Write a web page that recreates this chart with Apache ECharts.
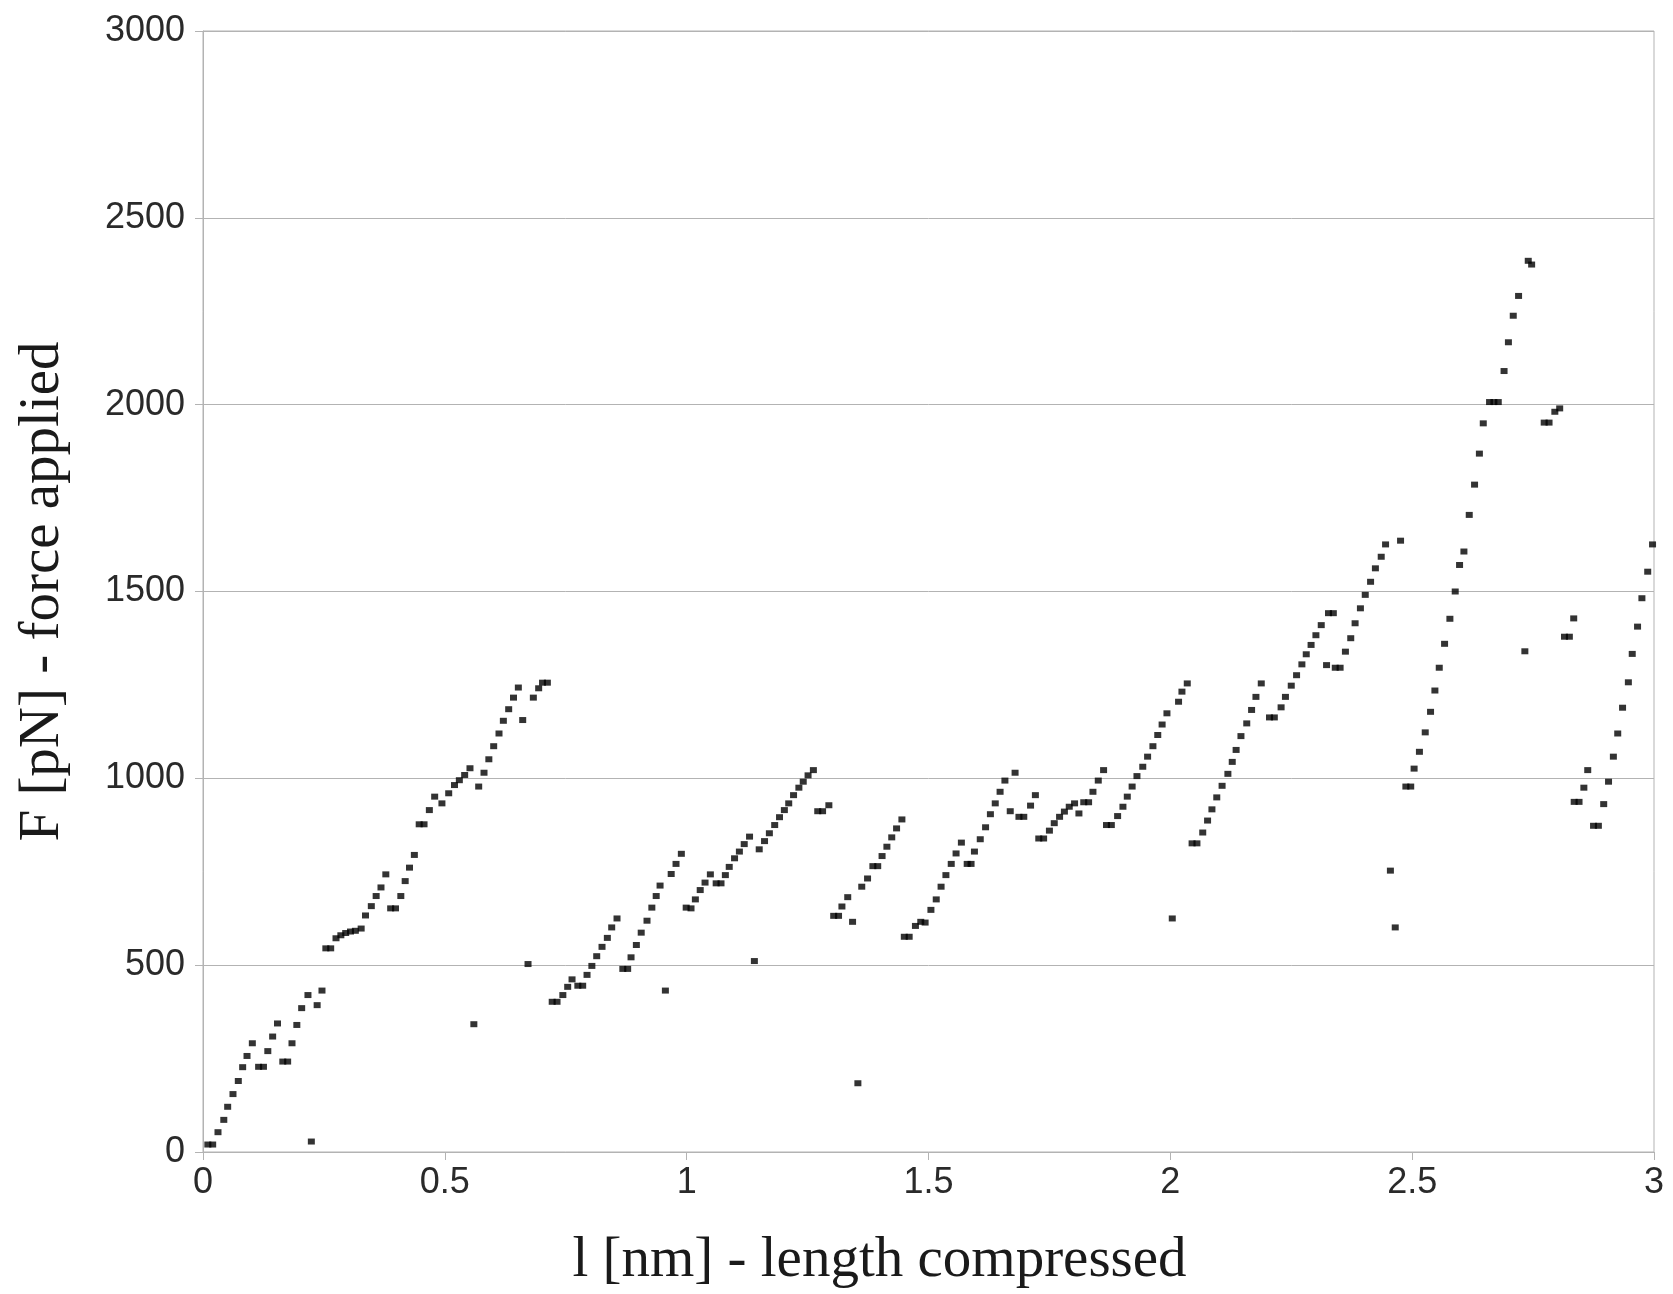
<!DOCTYPE html>
<html>
<head>
<meta charset="utf-8">
<script src="https://cdn.jsdelivr.net/npm/echarts@6/dist/echarts.min.js"></script>
<style>
html,body{margin:0;padding:0;background:#fff;}
#chart{width:1673px;height:1294px;}
</style>
</head>
<body>
<div id="chart"></div>
<script>
// l [nm] - length compressed
const lengthNm = [
0.010,0.020,0.031,0.043,0.051,0.062,0.073,0.082,0.091,0.102,0.115,0.125,0.134,0.144,0.154,0.165,0.175,0.184,0.194,0.204,
0.217,0.224,0.236,0.246,0.254,0.264,0.275,0.285,0.295,0.305,0.315,0.327,0.336,0.348,0.358,0.368,0.378,0.388,0.398,0.409,
0.418,0.427,0.437,0.447,0.457,0.468,0.479,0.494,0.508,0.520,0.530,0.541,0.552,0.560,0.570,0.581,0.591,0.601,0.612,0.621,
0.632,0.642,0.652,0.661,0.672,0.683,0.694,0.702,0.712,0.722,0.732,0.744,0.754,0.763,0.775,0.785,0.794,0.804,0.814,0.825,
0.836,0.845,0.856,0.868,0.878,0.885,0.896,0.906,0.918,0.928,0.937,0.945,0.956,0.968,0.978,0.989,0.999,1.009,1.018,1.028,
1.038,1.049,1.061,1.071,1.080,1.088,1.099,1.109,1.119,1.130,1.140,1.150,1.161,1.171,1.182,1.192,1.202,1.211,1.221,1.232,
1.241,1.251,1.262,1.271,1.281,1.294,1.304,1.314,1.321,1.333,1.343,1.354,1.362,1.374,1.385,1.395,1.404,1.414,1.424,1.434,
1.445,1.450,1.460,1.473,1.484,1.493,1.505,1.516,1.526,1.536,1.547,1.557,1.568,1.580,1.588,1.595,1.607,1.618,1.628,1.638,
1.648,1.658,1.669,1.679,1.687,1.697,1.711,1.721,1.728,1.738,1.750,1.760,1.771,1.781,1.791,1.802,1.811,1.821,1.831,1.840,
1.851,1.862,1.868,1.878,1.891,1.902,1.911,1.921,1.931,1.943,1.953,1.964,1.974,1.983,1.993,2.004,2.017,2.024,2.035,2.045,
2.055,2.067,2.077,2.086,2.096,2.107,2.119,2.128,2.136,2.146,2.158,2.168,2.177,2.188,2.205,2.215,2.229,2.238,2.250,2.261,
2.272,2.281,2.291,2.301,2.312,2.323,2.327,2.337,2.341,2.351,2.362,2.373,2.382,2.393,2.403,2.414,2.424,2.436,2.445,2.455,
2.465,2.476,2.487,2.497,2.504,2.515,2.527,2.538,2.547,2.556,2.567,2.578,2.589,2.598,2.607,2.618,2.629,2.639,2.647,2.660,
2.669,2.678,2.690,2.699,2.709,2.720,2.733,2.740,2.747,2.773,2.783,2.795,2.805,2.815,2.825,2.834,2.835,2.845,2.855,2.863,
2.875,2.885,2.896,2.906,2.916,2.925,2.935,2.947,2.955,2.966,2.975,2.987,2.997
];
// F [pN] - force applied
const forcePn = [
20,20,53,86,121,155,190,227,257,291,228,228,270,309,344,242,242,291,340,385,
420,28,393,432,545,545,572,580,586,590,592,598,633,658,685,708,743,652,652,685,
725,761,795,877,877,915,951,933,960,982,995,1009,1027,342,978,1015,1051,1086,1120,1154,
1185,1216,1243,1156,503,1216,1241,1256,1256,402,402,420,442,462,445,445,474,498,524,549,
573,601,625,490,490,521,554,587,619,654,685,713,432,744,771,798,654,652,676,701,
721,743,719,719,741,763,786,804,824,844,511,810,832,853,875,896,915,933,955,975,
991,1008,1022,912,912,928,632,632,657,682,616,184,710,732,765,765,792,817,842,866,
890,576,576,605,616,614,648,676,710,741,771,799,828,771,771,804,837,869,904,933,
964,994,912,1015,897,897,927,955,839,839,860,880,897,911,924,933,906,936,936,964,
994,1022,875,875,899,924,951,978,1006,1031,1058,1086,1116,1144,1174,625,1205,1232,1254,826,
826,855,887,917,949,980,1012,1044,1076,1113,1147,1183,1218,1254,1163,1163,1190,1218,1248,1276,
1305,1332,1357,1383,1410,1303,1442,1442,1296,1296,1339,1375,1415,1455,1491,1526,1562,1593,1626,753,
601,1636,978,978,1026,1071,1123,1178,1235,1296,1360,1427,1500,1571,1607,1705,1786,1869,1950,2007,
2007,2007,2090,2167,2238,2291,1340,2385,2375,1952,1952,1981,1990,1379,1379,1428,937,937,975,1022,
873,873,931,991,1058,1120,1189,1257,1333,1406,1482,1553,1626
];
const xTitle = 'l [nm] - length compressed';
const yTitle = 'F [pN] - force applied';

const points = lengthNm.map((l, i) => [l, forcePn[i]]);
const gridColor = '#b3b3b3';

const chart = echarts.init(document.getElementById('chart'), null, {renderer: 'canvas'});
chart.setOption({
  backgroundColor: '#ffffff',
  animation: false,
  grid: {
    left: 203, right: 19, top: 31, bottom: 142,
    containLabel: false, outerBoundsMode: 'none',
    show: true, borderColor: gridColor, borderWidth: 1, backgroundColor: 'transparent'
  },
  xAxis: {
    type: 'value', min: 0, max: 3, interval: 0.5,
    name: xTitle, nameLocation: 'middle', nameGap: 81, nameMoveOverlap: false,
    nameTextStyle: {fontFamily: 'Liberation Serif', fontSize: 57, color: '#1a1a1a', padding: [0, 98, 0, 0]},
    axisLine: {show: true, lineStyle: {color: gridColor, width: 1}},
    axisTick: {show: true, inside: false, length: 8, lineStyle: {color: gridColor}},
    axisLabel: {fontFamily: 'Liberation Sans', fontSize: 36, color: '#2a2a2a', margin: 13,
      formatter: v => String(v)},
    splitLine: {show: false}
  },
  yAxis: {
    type: 'value', min: 0, max: 3000, interval: 500,
    name: yTitle, nameLocation: 'middle', nameGap: 131,
    nameTextStyle: {fontFamily: 'Liberation Serif', fontSize: 57, color: '#1a1a1a'},
    axisLine: {show: true, lineStyle: {color: gridColor, width: 1}},
    axisTick: {show: true, inside: false, length: 8, lineStyle: {color: gridColor}},
    axisLabel: {fontFamily: 'Liberation Sans', fontSize: 36, color: '#2a2a2a', margin: 18,
      formatter: v => String(v)},
    splitLine: {show: true, lineStyle: {color: gridColor, width: 1}}
  },
  series: [{
    type: 'scatter',
    data: points,
    symbol: 'rect',
    symbolSize: [7, 6],
    itemStyle: {color: '#000000'}
  }]
});
</script>
</body>
</html>
